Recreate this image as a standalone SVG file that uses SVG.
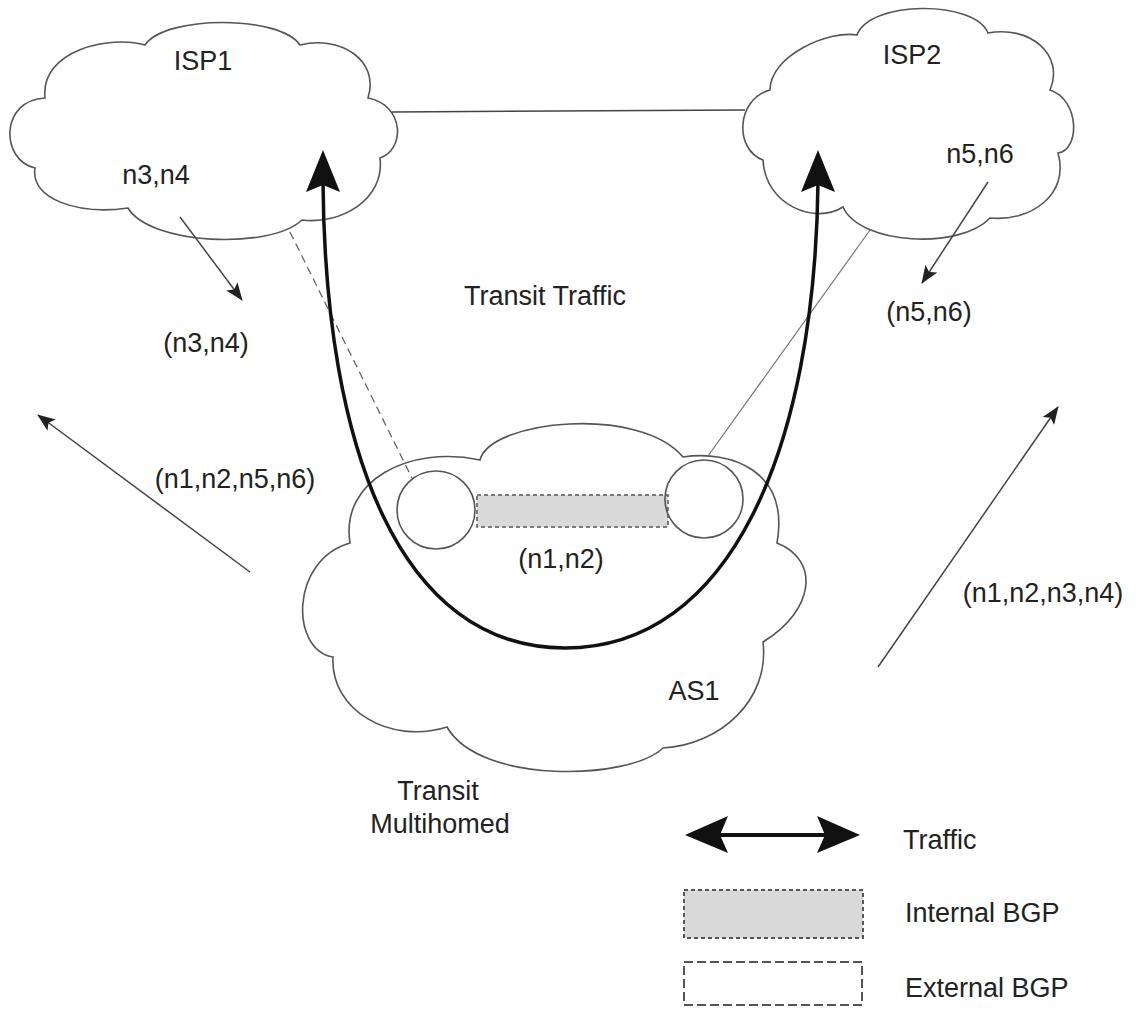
<svg xmlns="http://www.w3.org/2000/svg" width="1137" height="1009" viewBox="0 0 1137 1009">
<style>
text{font-family:"Liberation Sans",Arial,sans-serif;font-size:27px;fill:#222}
.cloud{fill:#fff;stroke:#555;stroke-width:1.6}
.thin{stroke:#444;stroke-width:1.5;fill:none}
.ebgp{stroke:#666;stroke-width:1.3;fill:none;stroke-dasharray:8 5}
.heavy{stroke:#111;stroke-width:3.5;fill:none}
.head{fill:#111}
</style>
<defs>
<marker id="ah" viewBox="0 0 18 14" refX="17" refY="7" markerWidth="18" markerHeight="14" markerUnits="userSpaceOnUse" orient="auto">
<path d="M0,0 L18,7 L0,14 L4,7 z" fill="#222"/>
</marker>
</defs>
<rect width="1137" height="1009" fill="#fff"/>

<g id="isp1">
<path class="cloud" d="M145 45 C165 15 280 15 300 45 C340 35 380 60 368 98 C405 105 405 150 380 158 C385 200 340 225 302 220 C270 250 150 245 128 208 C80 215 30 200 35 168 C0 160 0 100 45 98 C40 50 110 35 145 45 Z"/>
<text x="203" y="70" text-anchor="middle">ISP1</text>
<text x="156" y="184" text-anchor="middle">n3,n4</text>
</g>

<g id="isp2">
<path class="cloud" d="M857 35 C870 0 975 0 988 33 C1030 25 1065 55 1050 90 C1080 100 1080 150 1058 153 C1070 195 1030 222 990 218 C960 250 860 245 843 207 C815 225 765 205 763 160 C735 150 735 100 770 90 C770 55 830 30 857 35 Z"/>
<text x="912" y="64" text-anchor="middle">ISP2</text>
<text x="980" y="163" text-anchor="middle">n5,n6</text>
</g>

<g id="as1">
<path class="cloud" d="M480 460 C490 420 640 405 683 457 C730 450 790 470 777 543 C820 560 815 610 763 642 C770 700 720 745 663 748 C630 780 480 785 447 727 C390 745 330 710 333 657 C290 650 290 560 350 543 C340 480 410 445 480 460 Z"/>
<text x="694" y="700" text-anchor="middle">AS1</text>
</g>

<g id="ibgp">
<rect x="477" y="495" width="191" height="32" fill="#d9d9d9" stroke="#555" stroke-width="1.5" stroke-dasharray="4 3"/>
<text x="561" y="568" text-anchor="middle">(n1,n2)</text>
</g>

<g id="router1">
<circle cx="436" cy="510" r="39" fill="none" stroke="#555" stroke-width="1.6"/>
</g>
<g id="router2">
<circle cx="704" cy="499" r="39" fill="none" stroke="#555" stroke-width="1.6"/>
</g>

<g id="connectors">
<line class="thin" x1="392" y1="112" x2="745" y2="110" stroke="#555"/>
<line class="ebgp" x1="290" y1="232" x2="412" y2="478"/>
<line x1="870" y1="230" x2="708" y2="456" stroke="#777" stroke-width="1.2"/>
<path class="heavy" d="M323 182 C325 450 400 648 565 648 C730 648 815 450 818 182"/>
<polygon class="head" points="323,150 306,192 323,185 340,192"/>
<polygon class="head" points="818,150 801,192 818,185 835,192"/>
<line class="thin" x1="180" y1="217" x2="242" y2="300" marker-end="url(#ah)"/>
<line class="thin" x1="988" y1="182" x2="922" y2="283" marker-end="url(#ah)"/>
<line class="thin" x1="250" y1="572" x2="38" y2="415" marker-end="url(#ah)"/>
<line class="thin" x1="878" y1="667" x2="1058" y2="407" marker-end="url(#ah)"/>
</g>

<g id="labels">
<text x="545" y="305" text-anchor="middle">Transit Traffic</text>
<text x="206" y="352" text-anchor="middle">(n3,n4)</text>
<text x="929" y="321" text-anchor="middle">(n5,n6)</text>
<text x="235" y="488" text-anchor="middle">(n1,n2,n5,n6)</text>
<text x="1043" y="602" text-anchor="middle">(n1,n2,n3,n4)</text>
<text x="438" y="800" text-anchor="middle">Transit</text>
<text x="440" y="833" text-anchor="middle">Multihomed</text>
</g>

<g id="legend">
<line x1="712" y1="835" x2="833" y2="835" stroke="#111" stroke-width="4"/>
<polygon class="head" points="685,835 728,816 720,835 728,853"/>
<polygon class="head" points="860,835 817,816 825,835 817,853"/>
<text x="903" y="849">Traffic</text>
<rect x="684" y="890" width="179" height="48" fill="#d9d9d9" stroke="#555" stroke-width="2" stroke-dasharray="4 3"/>
<text x="905" y="922">Internal BGP</text>
<rect x="684" y="962" width="178" height="43" fill="#fff" stroke="#555" stroke-width="2" stroke-dasharray="9 4"/>
<text x="905" y="997">External BGP</text>
</g>
</svg>
